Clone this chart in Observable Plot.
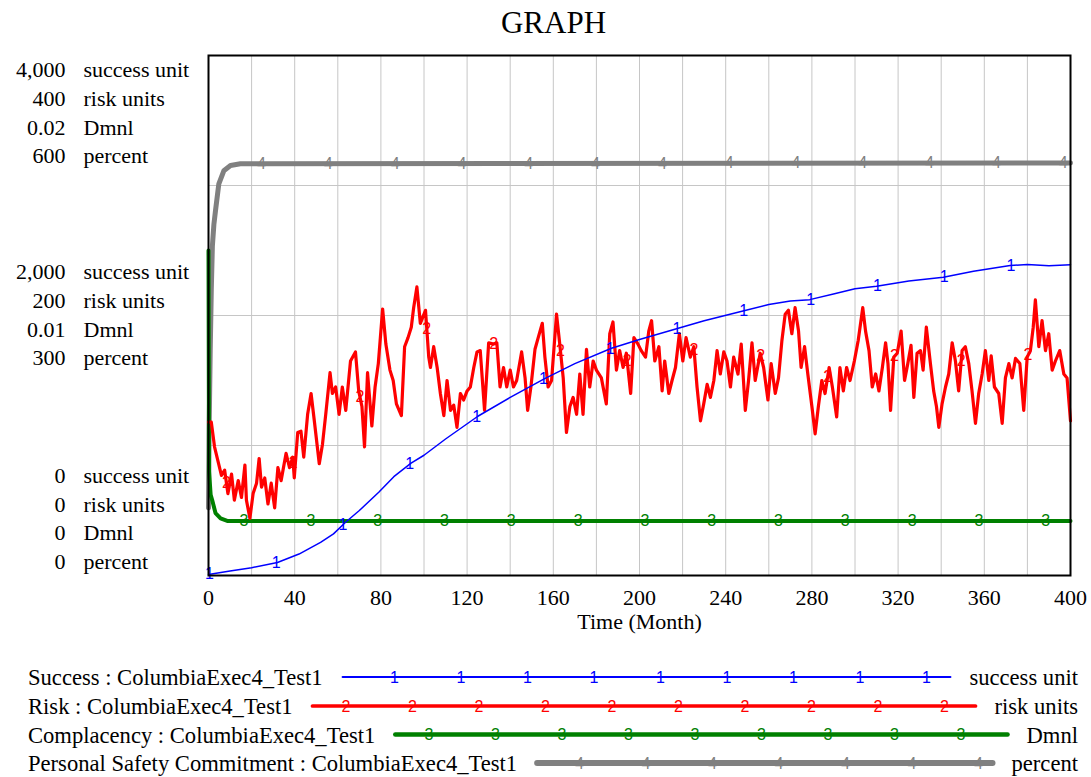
<!DOCTYPE html>
<html>
<head>
<meta charset="utf-8">
<script src="https://cdn.jsdelivr.net/npm/d3@7"></script>
<script src="https://cdn.jsdelivr.net/npm/@observablehq/plot@0.6"></script>
<style>
html,body{margin:0;padding:0;background:#fff;}
#wrap{position:relative;width:1091px;height:777px;overflow:hidden;font-family:"Liberation Serif","Times New Roman",serif;}
#title{position:absolute;left:0;top:7px;width:1107px;text-align:center;font-size:31px;line-height:1;color:#000;}
#chart{position:absolute;left:0;top:0;}
#legend{position:absolute;left:0;top:650px;}
</style>
</head>
<body>
<div id="wrap"><div id="chart"></div><div id="title">GRAPH</div><div id="legend"></div></div>
<script>
// ---------- data (time in months, values in native units) ----------
const runName = "ColumbiaExec4_Test1";
const seriesNames = ["Success", "Risk", "Complacency", "Personal Safety Commitment"];
const units = ["success unit", "risk units", "Dmnl", "percent"];
const successTicks = [0, 2000, 4000];
const riskTicks = [0, 200, 400];
const dmnlTicks = [0, 0.01, 0.02];
const percentTicks = [0, 300, 600];
const xTicks = [0, 40, 80, 120, 160, 200, 240, 280, 320, 360, 400];
const xGrid = [20, 40, 60, 80, 100, 120, 140, 160, 180, 200, 220, 240, 260, 280, 300, 320, 340, 360, 380];
const yGridRisk = [100, 200, 300];

const success = [[0,8],[10,35],[20,60],[32,100],[42,165],[52,255],[58,320],[63.6,410],[70,500],[79,640],[86,760],[94,865],[100,925],[110,1050],[125,1225],[140,1370],[156,1515],[170,1630],[187,1748],[200,1815],[217.6,1900],[230,1960],[248,2035],[260,2085],[270,2112],[279,2122],[290,2165],[300,2205],[310,2225],[325,2265],[341,2295],[355,2340],[372,2385],[380,2392],[390,2383],[400,2390]];

const risk = [[0,118],[1.3,118],[2.8,99],[4.4,88],[6,77],[7.5,81],[9,63],[10.7,78],[12,58],[13.8,73],[15.3,60],[16.9,85],[17.6,58],[19.2,44],[20.7,63],[22.3,71],[23.5,90],[24.6,68],[26.1,75],[27.6,55],[29.1,71],[30.7,52],[32.2,83],[33.7,73],[36,94],[37.6,83],[39.1,91],[39.8,75],[41.4,110],[42.9,111],[44.2,91],[46,124],[47.6,140],[49.1,119],[51.4,86],[52.9,101],[54.4,124],[56.4,156],[57.5,140],[59,145],[60.6,124],[62.1,145],[63.7,127],[65.9,165],[68.2,172],[69.7,142],[71.2,130],[72.4,99],[73.8,156],[75.8,115],[77.3,145],[78.8,163],[80.8,205],[82.3,178],[84.2,158],[85.7,150],[87.2,132],[89.5,123],[91,176],[92.6,183],[94.1,191],[95.2,206],[96.7,222],[98.3,194],[100.7,204],[102.2,168],[103,160],[104.5,176],[106.1,160],[107.6,140],[109.2,123],[110.7,150],[112.3,127],[113.8,131],[115.3,114],[116.9,140],[118.4,135],[120,142],[121.5,145],[123.1,160],[124.6,172],[126.1,173],[128.1,127],[130,179],[132.3,178],[133.8,179],[135.3,145],[136.9,160],[138.4,145],[140,158],[141.5,145],[143,150],[145.3,172],[146.9,152],[148.1,127],[149.6,145],[151.5,174],[153,183],[154.9,194],[156.1,168],[157.6,145],[159.2,150],[161.5,201],[163,178],[164.6,152],[166.1,110],[167.7,130],[169.2,137],[170.8,124],[172.3,155],[173.8,124],[175.4,174],[176.9,145],[178.5,165],[180,158],[182.3,152],[184.6,132],[186.2,186],[187.7,195],[189.3,158],[190.8,173],[192.4,160],[193.9,171],[195.9,140],[197.4,183],[199.3,178],[200.8,173],[202.8,168],[204.3,188],[205.6,196],[207.1,165],[209,176],[210.5,142],[211.7,165],[213.6,140],[215.1,150],[216.7,160],[218.5,186],[220.1,165],[221.6,183],[223.6,168],[225.2,176],[226.7,145],[228.3,119],[229.8,132],[231.4,147],[232.9,137],[234.5,150],[236,173],[237.5,155],[239.1,172],[240.6,165],[242.2,145],[243.7,168],[245.7,155],[247.2,178],[249.1,127],[250.6,150],[252.2,179],[253.7,150],[256,171],[257.6,160],[259.6,135],[261.1,163],[263,140],[264.5,152],[266.1,181],[267.6,201],[269.1,204],[270.7,186],[272.2,206],[273.8,188],[275,160],[276.6,176],[278.1,155],[280,130],[281.5,109],[283,130],[284.6,150],[286.1,140],[288,160],[289.5,145],[291.5,122],[293,160],[294.6,142],[296.1,160],[297.7,150],[299.7,165],[301.5,181],[303.6,206],[304.9,188],[306.5,173],[308,145],[309.6,155],[311.1,142],[312.7,160],[314.2,179],[315.3,163],[316.5,127],[318,168],[319.6,171],[321.4,188],[323,150],[324.5,163],[326,177],[327.3,137],[328.8,171],[330.4,173],[331.6,158],[333.1,191],[335,163],[336.5,142],[337.8,130],[338.9,114],[340.4,132],[342,145],[343.5,155],[345.1,179],[346.6,165],[348.1,142],[349.7,173],[351.2,176],[352.8,163],[354.3,142],[355.9,117],[357.4,140],[359,155],[360.5,173],[362.1,150],[363.2,169],[364.7,145],[366.7,140],[368.3,117],[369.8,152],[371.4,163],[372.9,152],[374.5,167],[376.5,163],[378.3,127],[379.9,168],[381.4,173],[382.7,191],[383.7,212],[385.3,176],[386.8,196],[388.4,173],[389.9,186],[391.5,158],[393,165],[395,173],[396.9,155],[398.4,152],[400,119]];

const complacency = [[0,0.0125],[0.25,0.0040],[1,0.0031],[1.7,0.0029],[3.25,0.0024],[5.6,0.0022],[8.7,0.0021],[400,0.0021]];

const commitment = [[0,78],[0.3,170],[0.8,260],[1.3,330],[1.8,380],[2.5,405],[3.25,421],[4.8,452],[7.1,467],[10.2,473],[14.8,475],[400,476]];

const colors = ["#0000ff", "#ff0000", "#008000", "#808080"];
const widths = [1.5, 3.2, 4, 5];
const glyphs = ["1", "2", "3", "4"];
const markerStart = [0.4, 8.3, 16.5, 24.6];
const markerStep = 31;

// ---------- build ----------
const serif = '"Liberation Serif","Times New Roman",serif';
const sans = '"Liberation Sans",Arial,sans-serif';
const allTicks = [successTicks, riskTicks, dmnlTicks, percentTicks];
const allData = [success, risk, complacency, commitment];
// factor that maps each series onto the shared (risk-unit) vertical scale
const factors = allTicks.map(tk => riskTicks[2] / tk[2]);
const fmt = d3.format(",");

function interp(pts, t) {
  for (let i = 1; i < pts.length; i++) {
    if (t <= pts[i][0]) {
      const a = (t - pts[i-1][0]) / (pts[i][0] - pts[i-1][0]);
      return pts[i-1][1] + a * (pts[i][1] - pts[i-1][1]);
    }
  }
  return pts[pts.length - 1][1];
}

const marks = [
  Plot.gridX(xGrid, {stroke: "#c6c6c6", strokeOpacity: 1, strokeWidth: 1}),
  Plot.gridY(yGridRisk, {stroke: "#c6c6c6", strokeOpacity: 1, strokeWidth: 1})
];
for (let i = 3; i >= 0; i--) {
  const data = allData[i].map(([t, v]) => ({t, v: v * factors[i]}));
  marks.push(Plot.line(data, {x: "t", y: "v", stroke: colors[i], strokeWidth: widths[i]}));
}
const xMax = xTicks[xTicks.length - 1];
for (let i = 0; i < 4; i++) {
  const md = [];
  for (let t = markerStart[i]; t <= xMax; t += markerStep) md.push({t, v: interp(allData[i], t) * factors[i]});
  marks.push(Plot.text(md, {x: "t", y: "v", text: () => glyphs[i], fill: colors[i], fontSize: 16, fontFamily: sans}));
}
marks.push(Plot.frame({stroke: "#000", strokeWidth: 2}));
marks.push(Plot.axisX(xTicks, {tickSize: 0, tickPadding: 14, fontSize: 22, fontFamily: serif, fill: "#000", label: null, tickFormat: d => String(d)}));
marks.push(Plot.text(["Time (Month)"], {frameAnchor: "bottom", dy: 53, fontSize: 22, fontFamily: serif, fill: "#000"}));

// stacked left labels (bottom / middle / top groups)
const anchors = ["bottom", "middle", "top"];
const groupDy = [-6.5, -2.3, 1.5];
for (let g = 0; g < 3; g++) {
  const nums = allTicks.map(tk => fmt(tk[g])).join("\n");
  const uns = units.join("\n");
  marks.push(Plot.text([riskTicks[g]], {y: d => d, text: () => nums, frameAnchor: "left", dx: -143, dy: groupDy[g],
    textAnchor: "end", lineAnchor: anchors[g], lineHeight: 28.6 / 22, fontSize: 22, fontFamily: serif, fill: "#000"}));
  marks.push(Plot.text([riskTicks[g]], {y: d => d, text: () => uns, frameAnchor: "left", dx: -125, dy: groupDy[g],
    textAnchor: "start", lineAnchor: anchors[g], lineHeight: 28.6 / 22, fontSize: 22, fontFamily: serif, fill: "#000"}));
}

const chart = Plot.plot({
  width: 1091, height: 650,
  marginTop: 55, marginBottom: 75, marginLeft: 208, marginRight: 21,
  x: {domain: [0, xMax]},
  y: {domain: [riskTicks[0], riskTicks[2]], axis: null},
  style: {background: "transparent", color: "#000", fontFamily: serif},
  marks
});
document.getElementById("chart").appendChild(chart);

// ---------- legend ----------
const legendLineY = [27, 56, 84.5, 113];
const legendMarkerBase = [62, 80, 96.5, 114];
const legendMarkerStep = 66.5;
const leg = d3.select("#legend").append("svg").attr("width", 1091).attr("height", 127);
for (let i = 0; i < 4; i++) {
  const y = legendLineY[i];
  const lab = leg.append("text").attr("x", 28).attr("y", y + 8)
    .attr("font-family", serif).attr("font-size", 22.6).attr("fill", "#000")
    .text(`${seriesNames[i]} : ${runName}`);
  const un = leg.append("text").attr("x", 1078).attr("y", y + 8).attr("text-anchor", "end")
    .attr("font-family", serif).attr("font-size", 22.6).attr("fill", "#000").text(units[i]);
  const x0 = 28 + lab.node().getComputedTextLength() + 20;
  const x1 = 1078 - un.node().getComputedTextLength() - 19;
  leg.append("line").attr("x1", x0).attr("x2", x1).attr("y1", y).attr("y2", y)
    .attr("stroke", colors[i]).attr("stroke-width", widths[i] + (i === 3 ? 1 : 0.5)).attr("stroke-linecap", "round");
  for (let x = legendMarkerBase[i]; x <= x1 - 3; x += legendMarkerStep) {
    if (x < x0 + 15) continue;
    leg.append("text").attr("x", x).attr("y", y).attr("dy", "0.35em").attr("text-anchor", "middle")
      .attr("font-family", sans).attr("font-size", 16).attr("fill", colors[i]).text(glyphs[i]);
  }
}
</script>
</body>
</html>
